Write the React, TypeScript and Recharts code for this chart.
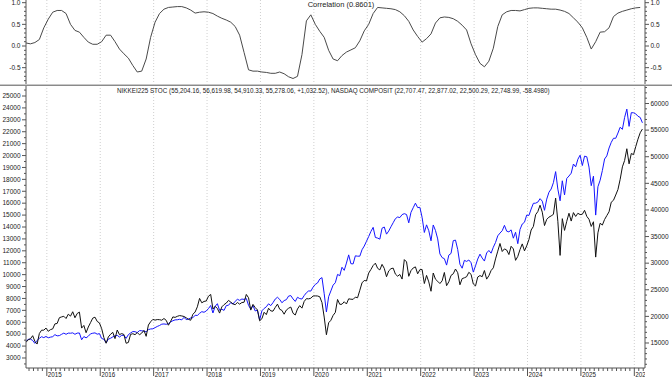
import React from "react";
import { LineChart, Line, XAxis, YAxis, ReferenceLine } from "recharts";

// first sample ~ 11 Aug 2014, prices every half month, correlation monthly
const T_START = 2014.61;
const T_MIN = 2014.61;
const T_MAX = 2026.2;

// NASDAQ Composite, left axis (two points a month)
const NASDAQ = [
  // 2014 Aug-Dec
  4400, 4560, 4590, 4470, 4230, 4480, 4650, 4790, 4710, 4810,
  // 2015
  4700, 4750, 4790, 4960, 4860, 4880, 4990, 5090, 4990, 5090, 5080, 5110,
  4990, 5090, 5100, 4530, 4800, 4690, 4830, 5030, 5080, 5110, 5000, 5050,
  // 2016
  4640, 4570, 4280, 4580, 4660, 4770, 4850, 4900, 4760, 4900, 4900, 4650,
  4960, 5100, 5220, 5210, 5130, 5300, 5290, 5250, 5200, 5380, 5440, 5450,
  // 2017
  5550, 5650, 5730, 5840, 5860, 5830, 5880, 6030, 6130, 6200, 6210, 6250,
  6200, 6410, 6220, 6270, 6360, 6380, 6590, 6570, 6750, 6890, 6840, 6950,
  // 2018
  7150, 7410, 6780, 7340, 7560, 7000, 7090, 7000, 7400, 7430, 7650, 7530,
  7760, 7930, 7840, 7950, 7920, 8000, 7420, 7100, 7400, 6950, 7020, 6190,
  // 2019
  6960, 7160, 7300, 7550, 7400, 7650, 7950, 8100, 7920, 7640, 7820, 7900,
  8200, 8240, 7960, 7750, 8100, 7990, 7950, 8240, 8480, 8630, 8620, 8950,
  // 2020
  9180, 9300, 9630, 9750, 8400, 6860, 8150, 8630, 9120, 9320, 10020, 9910,
  10620, 10360, 10970, 11660, 10920, 10900, 11580, 11550, 11550, 12090, 12400, 12800,
  // 2021
  13200, 13630, 13970, 13120, 13070, 12980, 13900, 14000, 13400, 13660, 14020, 14360,
  14700, 14840, 14790, 15040, 15120, 15050, 14350, 15230, 15620, 16000, 15630, 15650,
  // 2022
  14800, 13540, 14180, 13690, 12840, 14170, 13710, 13000, 11740, 11430, 11340, 10800,
  11640, 11780, 12850, 12900, 12110, 10870, 10540, 11200, 11110, 11230, 11000, 10210,
  // 2023
  10740, 11310, 11720, 11390, 11140, 11820, 12030, 11800, 12300, 12700, 13260, 13490,
  13690, 14140, 13650, 13590, 13760, 13060, 13560, 12600, 13800, 14250, 14400, 15000,
  // 2024
  14970, 15510, 15990, 16000, 16090, 16380, 16170, 15400, 16340, 16920, 17190, 17720,
  18650, 17180, 16200, 17880, 16690, 18080, 18280, 18520, 19290, 19050, 19690, 20030,
  // 2025
  19160, 19950, 19900, 19030, 17470, 18270, 15000, 17380, 17930, 18740, 19710, 19970,
  20630, 21110, 21450, 21450, 21890, 22380, 22200, 23200, 23900, 22450, 23600, 23590,
  // 2026 Jan-Feb
  23500, 23300, 23200, 22750,
];

// NIKKEI 225, right axis
const NIKKEI = [
  // 2014 Aug-Dec
  15130, 15610, 15790, 16370, 15300, 14800, 16780, 17400, 17410, 17800,
  // 2015
  17200, 17510, 17650, 18590, 18670, 19750, 19900, 20020, 19600, 20410, 20050, 20870,
  19740, 20540, 20800, 17800, 18300, 16930, 18000, 18830, 19670, 19850, 19050, 18770,
  // 2016
  17700, 16020, 14950, 16140, 16640, 17000, 15820, 17440, 16570, 16760, 16600, 14950,
  15100, 16620, 16740, 16560, 16960, 16540, 16860, 17370, 16250, 18380, 18990, 19430,
  // 2017
  19300, 19400, 19380, 19280, 19600, 19260, 18340, 19080, 19900, 19810, 20010, 20150,
  20080, 19980, 19730, 19450, 19270, 20400, 20820, 21800, 23380, 22550, 22810, 22900,
  // 2018
  23790, 24120, 21380, 21890, 21470, 20620, 21790, 22210, 22500, 23000, 22690, 22340,
  22200, 22610, 22300, 22600, 22660, 24120, 23500, 21180, 22250, 21650, 21220, 19160,
  // 2019
  19560, 20770, 20330, 21530, 21030, 20980, 21680, 22300, 21340, 21120, 20410, 21190,
  21530, 21750, 20590, 20260, 21390, 22020, 21550, 22800, 23330, 23290, 23410, 23830,
  // 2020
  23850, 23830, 23690, 22600, 19870, 16550, 18800, 19260, 20180, 20740, 23180, 22260,
  22290, 22750, 22330, 23300, 23230, 23200, 23620, 23500, 24900, 26300, 26750, 26660,
  // 2021
  28140, 28820, 29560, 30000, 29040, 28730, 29770, 29020, 27450, 28550, 28960, 29070,
  27940, 27550, 27880, 27010, 30670, 30240, 27530, 28600, 29100, 29300, 28000, 28780,
  // 2022
  28800, 26170, 27700, 26480, 24720, 28150, 26990, 26590, 26170, 26680, 28250, 25770,
  26500, 27700, 28000, 28900, 28210, 25940, 27100, 27250, 27450, 28280, 27900, 26090,
  // 2023
  25720, 27400, 27670, 27450, 28620, 27000, 27630, 28620, 29120, 30800, 32260, 33700,
  32190, 32680, 32470, 31620, 33170, 32680, 30530, 31270, 32560, 33620, 32310, 33250,
  // 2024
  34440, 36230, 36900, 39100, 39690, 40890, 39580, 37070, 38230, 38650, 38880, 39170,
  42220, 37870, 31460, 38360, 36160, 37870, 39380, 37910, 39500, 38780, 39370, 39130,
  // 2025
  39190, 39930, 38800, 38240, 36900, 37780, 31140, 35700, 37500, 37160, 38210, 38940,
  39650, 41460, 41820, 42800, 43840, 45750, 48100, 49300, 51500, 48660, 50600, 50400,
  // 2026 Jan-Feb
  51900, 53300, 54500, 55200,
];

// rolling correlation, one point a month
const CORRELATION = [
  0.07, 0.05, 0.08, 0.15, 0.42, 0.62, 0.78, 0.82, 0.82, 0.75, 0.5, 0.36,
  0.32, 0.2, 0.09, 0.04, 0.04, 0.1, 0.25, 0.25, 0.1, -0.07, -0.18, -0.28,
  -0.45, -0.6, -0.58, -0.3, 0.2, 0.55, 0.75, 0.85, 0.89, 0.9, 0.91, 0.91,
  0.88, 0.83, 0.76, 0.78, 0.79, 0.78, 0.75, 0.69, 0.64, 0.6, 0.55, 0.45,
  0.25, -0.15, -0.55, -0.58, -0.58, -0.6, -0.61, -0.63, -0.63, -0.6, -0.64, -0.71,
  -0.75, -0.7, -0.2, 0.58, 0.72, 0.5, 0.34, 0.2, -0.1, -0.3, -0.34, -0.22,
  -0.14, -0.09, -0.04, 0.12, 0.35, 0.5, 0.75, 0.89, 0.88, 0.87, 0.86, 0.84,
  0.79, 0.7, 0.57, 0.37, 0.22, 0.09, 0.17, 0.28, 0.53, 0.65, 0.67, 0.66,
  0.63, 0.57, 0.48, 0.37, 0.05, -0.2, -0.4, -0.48, -0.35, -0.05, 0.45, 0.72,
  0.79, 0.82, 0.82, 0.81, 0.84, 0.87, 0.88, 0.88, 0.87, 0.86, 0.85, 0.85,
  0.83, 0.8, 0.75, 0.65, 0.55, 0.42, 0.2, -0.07, 0.1, 0.32, 0.33, 0.42,
  0.68, 0.76, 0.8, 0.83, 0.86, 0.88, 0.89,
];

const YEARS = [2015, 2016, 2017, 2018, 2019, 2020, 2021, 2022, 2023, 2024, 2025, 2026];
const LEFT_LABELS = [
  3000, 4000, 5000, 6000, 7000, 8000, 9000, 10000, 11000, 12000, 13000, 14000,
  15000, 16000, 17000, 18000, 19000, 20000, 21000, 22000, 23000, 24000, 25000,
];
const RIGHT_LABELS = [15000, 20000, 25000, 30000, 35000, 40000, 45000, 50000, 55000, 60000];
const CORR_LABELS = [-0.5, 0, 0.5, 1];

const TITLE_CORR = "Correlation (0.8601)";
const TITLE_PRICE =
  "NIKKEI225 STOC (55,204.16, 56,619.98, 54,910.33, 55,278.06, +1,032.52), NASDAQ COMPOSIT (22,707.47, 22,877.02, 22,500.29, 22,748.99, -58.4980)";

const priceData = NASDAQ.map((v, i) => ({ t: T_START + i / 24, nasdaq: v, nikkei: NIKKEI[i] }));
const corrData = CORRELATION.map((v, i) => ({ t: T_START + i / 12, corr: v }));

// minor tick positions
const leftTicks = [2500, ...LEFT_LABELS.flatMap((v) => [v, v + 500])];
const rightTicks = Array.from({ length: 53 }, (_, i) => 11000 + i * 1000);
const corrTicks = Array.from({ length: 19 }, (_, i) => Math.round((-0.8 + i * 0.1) * 10) / 10);
const monthTicks = [2014, ...YEARS]
  .flatMap((y) => Array.from({ length: 12 }, (_, m) => y + m / 12))
  .filter((t) => t >= T_MIN && t <= T_MAX);

const W = 672;
const PLOT_LEFT = 26;
const PLOT_RIGHT = 645;
const FONT = '"Liberation Sans", Arial, sans-serif';
const AXIS = "#555";
const TEXT = "#222";

const makeYTick =
  (side: "left" | "right", labels: number[], fmt: (v: number) => string) =>
  (props: any) => {
    const { x, y, payload } = props;
    const v = payload.value;
    const major = labels.some((l) => Math.abs(l - v) < 1e-6);
    const dir = side === "left" ? -1 : 1;
    return (
      <g>
        <line x1={x} y1={y} x2={x + dir * (major ? 4 : 2)} y2={y} stroke={AXIS} strokeWidth={1} />
        {major && (
          <text
            x={x + dir * 5.5}
            y={y}
            dy={2.3}
            textAnchor={side === "left" ? "end" : "start"}
            fontSize={6.5}
            fontFamily={FONT}
            fill={TEXT}
          >
            {fmt(v)}
          </text>
        )}
      </g>
    );
  };

const XTick = (props: any) => {
  const { x, y, payload } = props;
  const v = payload.value;
  const year = Math.round(v);
  const major = Math.abs(v - year) < 0.01;
  return (
    <g>
      <line x1={x} y1={y} x2={x} y2={y + (major ? 8 : 3)} stroke={AXIS} strokeWidth={1} />
      {major && (
        <svg x={x + 1} y={y} width={Math.max(0, PLOT_RIGHT - x - 1)} height={10} overflow="hidden">
          <text x={0} y={8.6} fontSize={6.3} fontFamily={FONT} fill={TEXT}>
            {year}
          </text>
        </svg>
      )}
    </g>
  );
};

const fmtInt = (v: number) => String(v);
const fmtCorr = (v: number) => v.toFixed(1);

export default function App() {
  return (
    <div
      style={{
        position: "absolute",
        left: 0,
        top: 0,
        width: W,
        height: 378,
        background: "#fff",
        overflow: "hidden",
      }}
    >
      <div style={{ position: "absolute", left: 0, top: 0 }}>
        <LineChart width={W} height={85} data={corrData} margin={{ top: 0, right: 0, bottom: 0, left: 0 }}>
          <XAxis dataKey="t" type="number" domain={[T_MIN, T_MAX]} allowDataOverflow hide />
          <YAxis
            yAxisId="cl"
            orientation="left"
            width={PLOT_LEFT}
            domain={[-0.9, 1.062]}
            allowDataOverflow
            ticks={corrTicks}
            interval={0}
            tickSize={0}
            tickMargin={0}
            axisLine={{ stroke: AXIS }}
            tickLine={false}
            tick={makeYTick("left", CORR_LABELS, fmtCorr)}
          />
          <YAxis
            yAxisId="cr"
            orientation="right"
            width={W - PLOT_RIGHT}
            domain={[-0.9, 1.062]}
            allowDataOverflow
            ticks={corrTicks}
            interval={0}
            tickSize={0}
            tickMargin={0}
            axisLine={{ stroke: AXIS }}
            tickLine={false}
            tick={makeYTick("right", CORR_LABELS, fmtCorr)}
          />
          {YEARS.map((yr) => (
            <ReferenceLine key={yr} x={yr} yAxisId="cl" stroke="#cfcfcf" strokeDasharray="1 2" />
          ))}
          <Line
            yAxisId="cl"
            dataKey="corr"
            type="linear"
            stroke="#4a4a4a"
            strokeWidth={1}
            dot={false}
            isAnimationActive={false}
          />
        </LineChart>
      </div>

      <div style={{ position: "absolute", left: 0, top: 84, width: W, height: 1, background: "#c8c8c8" }} />
      <div style={{ position: "absolute", left: 0, top: 85, width: W, height: 1, background: "#8a8a8a" }} />

      <div style={{ position: "absolute", left: 0, top: 86 }}>
        <LineChart width={W} height={292} data={priceData} margin={{ top: 0, right: 0, bottom: 0, left: 0 }}>
          <XAxis
            dataKey="t"
            type="number"
            domain={[T_MIN, T_MAX]}
            allowDataOverflow
            ticks={monthTicks}
            interval={0}
            height={10}
            tickSize={0}
            tickMargin={0}
            axisLine={{ stroke: AXIS }}
            tickLine={false}
            tick={XTick}
          />
          <YAxis
            yAxisId="left"
            orientation="left"
            width={PLOT_LEFT}
            domain={[2160, 25840]}
            allowDataOverflow
            ticks={leftTicks}
            interval={0}
            tickSize={0}
            tickMargin={0}
            axisLine={{ stroke: AXIS }}
            tickLine={false}
            tick={makeYTick("left", LEFT_LABELS, fmtInt)}
          />
          <YAxis
            yAxisId="right"
            orientation="right"
            width={W - PLOT_RIGHT}
            domain={[10300, 63290]}
            allowDataOverflow
            ticks={rightTicks}
            interval={0}
            tickSize={0}
            tickMargin={0}
            axisLine={{ stroke: AXIS }}
            tickLine={false}
            tick={makeYTick("right", RIGHT_LABELS, fmtInt)}
          />
          {YEARS.map((yr) => (
            <ReferenceLine key={yr} x={yr} yAxisId="left" stroke="#cfcfcf" strokeDasharray="1 2" />
          ))}
          <Line
            yAxisId="left"
            dataKey="nasdaq"
            name="NASDAQ COMPOSIT"
            type="linear"
            stroke="#1515ff"
            strokeWidth={1}
            dot={false}
            isAnimationActive={false}
          />
          <Line
            yAxisId="right"
            dataKey="nikkei"
            name="NIKKEI225 STOC"
            type="linear"
            stroke="#111"
            strokeWidth={1}
            dot={false}
            isAnimationActive={false}
          />
        </LineChart>
      </div>

      <div
        style={{
          position: "absolute",
          left: 341,
          top: 0,
          transform: "translateX(-50%)",
          fontFamily: FONT,
          fontSize: 7.5,
          lineHeight: "10px",
          color: TEXT,
          whiteSpace: "nowrap",
        }}
      >
        {TITLE_CORR}
      </div>
      <div
        style={{
          position: "absolute",
          left: 117,
          top: 86,
          fontFamily: FONT,
          fontSize: 6.3,
          lineHeight: "10px",
          color: TEXT,
          whiteSpace: "nowrap",
        }}
      >
        {TITLE_PRICE}
      </div>
    </div>
  );
}
